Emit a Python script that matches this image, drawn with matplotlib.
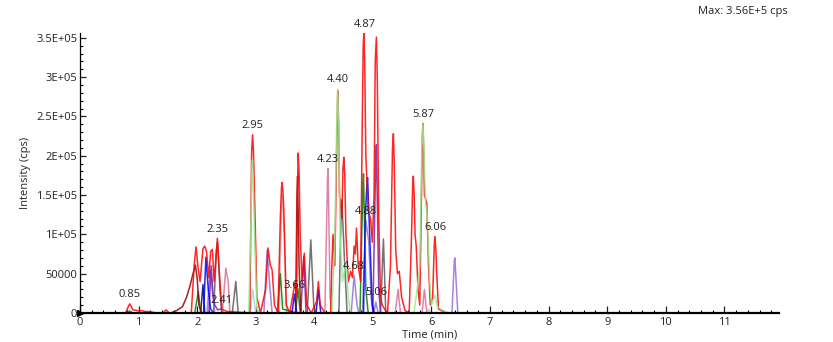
import matplotlib
matplotlib.use("Agg")
import matplotlib.pyplot as plt
from matplotlib.ticker import MultipleLocator

plt.rcParams['font.family'] = ['Open Sans', 'DejaVu Sans']

# ---- data: (time min, intensity cps) vertices ----
red = [(0, 0), (0.78, 0), (0.83, 9000), (0.85, 11500), (0.87, 9000), (0.90, 4000), (0.95, 3500), (1.00, 2500),
       (1.05, 3000), (1.10, 2000), (1.20, 1500), (1.30, 0), (1.42, 0), (1.47, 4000), (1.52, 0), (1.90, 0),
       (1.95, 60000), (1.98, 84000), (2.02, 55000), (2.05, 40000), (2.10, 82000), (2.13, 85000), (2.16, 78000),
       (2.20, 45000), (2.23, 78000), (2.26, 81000), (2.29, 40000), (2.32, 70000), (2.345, 95000), (2.38, 50000),
       (2.42, 5000), (2.50, 2000), (2.90, 0), (2.915, 100000), (2.93, 205000), (2.946, 226800), (2.962, 205000),
       (2.98, 150000), (3.02, 20000), (3.08, 0), (3.17, 30000), (3.21, 82700), (3.25, 60000), (3.28, 55000),
       (3.32, 10000), (3.38, 0), (3.42, 120000), (3.44, 160000), (3.45, 166000), (3.465, 155000), (3.48, 130000),
       (3.52, 10000), (3.58, 0), (3.64, 25000), (3.67, 38000), (3.70, 20000), (3.71, 150000), (3.725, 203500),
       (3.74, 180000), (3.76, 100000), (3.79, 40000), (3.83, 76000), (3.87, 10000), (3.95, 0), (4.04, 15000),
       (4.07, 40000), (4.10, 10000), (4.18, 0), (4.28, 0), (4.30, 60000), (4.32, 100000), (4.35, 60000),
       (4.38, 200000), (4.40, 283000), (4.415, 240000), (4.43, 150000), (4.47, 120000), (4.49, 185000),
       (4.505, 198000), (4.52, 175000), (4.54, 100000), (4.58, 40000), (4.62, 53000), (4.65, 45000), (4.68, 85000),
       (4.70, 75000), (4.72, 108000), (4.75, 60000), (4.79, 40000), (4.82, 250000), (4.835, 340000),
       (4.846, 356000), (4.86, 320000), (4.88, 200000), (4.92, 130000), (4.96, 120000), (4.99, 90000),
       (5.02, 150000), (5.04, 320000), (5.06, 351000), (5.075, 300000), (5.10, 120000), (5.13, 20000),
       (5.16, 10000), (5.20, 5000), (5.25, 0), (5.30, 60000), (5.335, 210000), (5.35, 228000), (5.365, 190000),
       (5.39, 80000), (5.42, 50000), (5.45, 53000), (5.49, 20000), (5.55, 3000), (5.62, 0), (5.66, 100000),
       (5.68, 165000), (5.69, 174000), (5.705, 150000), (5.72, 100000), (5.74, 85000), (5.77, 30000),
       (5.80, 10000), (5.83, 150000), (5.845, 225000), (5.855, 241000), (5.87, 200000), (5.88, 150000),
       (5.92, 140000), (5.95, 60000), (5.98, 10000), (6.02, 20000), (6.05, 90000), (6.06, 97000), (6.075, 80000),
       (6.09, 50000), (6.12, 5000), (6.20, 2000), (6.25, 0), (11.9, 0)]

lgreen = [(0, 0), (2.88, 0), (2.92, 120000), (2.935, 185000), (2.945, 195000), (2.96, 160000), (2.98, 100000),
          (3.02, 5000), (3.06, 0), (4.30, 0), (4.35, 90000), (4.38, 230000), (4.40, 285000), (4.415, 240000),
          (4.44, 100000), (4.48, 40000), (4.52, 55000), (4.55, 60000), (4.58, 20000), (4.62, 0), (5.70, 0),
          (5.76, 33000), (5.80, 60000), (5.835, 210000), (5.855, 241000), (5.87, 210000), (5.90, 140000),
          (5.93, 120000), (5.97, 40000), (6.00, 10000), (6.06, 22000), (6.10, 8000), (6.20, 3000), (6.30, 0),
          (11.9, 0)]

dgreen = [(0, 0), (0.80, 0), (0.85, 2500), (0.90, 0), (1.96, 0), (2.02, 27000), (2.06, 0), (3.37, 0),
          (3.42, 50000), (3.46, 5000), (3.68, 0), (3.72, 31000), (3.76, 0), (4.78, 0), (4.83, 165000),
          (4.84, 177000), (4.855, 120000), (4.88, 30000), (4.92, 0), (11.9, 0)]

blue = [(0, 0), (2.11, 0), (2.15, 71000), (2.19, 30000), (2.23, 5000), (2.28, 0), (3.62, 0), (3.66, 24000),
        (3.70, 0), (4.03, 0), (4.07, 30000), (4.11, 0), (4.84, 0), (4.87, 120000), (4.90, 168000), (4.91, 172000),
        (4.95, 90000), (4.99, 10000), (5.02, 0), (11.9, 0)]

navy = [(0, 0), (2.06, 0), (2.10, 36000), (2.13, 0), (11.9, 0)]

dred = [(0, 0), (1.55, 0), (1.65, 3000), (1.75, 8000), (1.82, 20000), (1.88, 35000), (1.93, 50000),
        (1.97, 61000), (2.00, 45000), (2.03, 10000), (2.08, 0), (3.68, 0), (3.705, 150000), (3.715, 174000),
        (3.74, 60000), (3.77, 0), (11.9, 0)]

gray = [(0, 0), (2.28, 0), (2.33, 80000), (2.35, 90000), (2.39, 30000), (2.42, 0), (2.60, 0), (2.66, 40000),
        (2.70, 0), (3.88, 0), (3.94, 93000), (3.99, 10000), (4.02, 0), (4.42, 0), (4.46, 135000), (4.47, 144000),
        (4.52, 60000), (4.56, 0), (5.13, 0), (5.18, 94000), (5.22, 0), (11.9, 0)]

mpurple = [(0, 0), (2.17, 0), (2.22, 55000), (2.27, 20000), (2.30, 0), (3.14, 0), (3.195, 80000),
           (3.24, 35000), (3.28, 0), (4.63, 0), (4.68, 48000), (4.73, 10000), (4.76, 0), (4.82, 0),
           (4.88, 118000), (4.93, 90000), (4.97, 20000), (5.00, 0), (5.02, 0), (5.05, 14000), (5.09, 0),
           (6.35, 0), (6.39, 66000), (6.40, 70000), (6.45, 0), (11.9, 0)]

purple = [(0, 0), (2.20, 0), (2.24, 60000), (2.27, 25000), (2.30, 10000), (2.35, 4000), (2.41, 5000),
          (2.45, 0), (3.77, 0), (3.82, 72000), (3.86, 0), (5.00, 0), (5.05, 200000), (5.06, 214000),
          (5.10, 30000), (5.13, 0), (11.9, 0)]

pviolet = [(0, 0), (2.43, 0), (2.49, 57000), (2.53, 40000), (2.56, 0), (4.18, 0), (4.225, 170000),
           (4.235, 184000), (4.27, 20000), (4.30, 0), (5.38, 0), (5.43, 30000), (5.47, 0), (5.84, 0),
           (5.88, 30000), (5.92, 0), (11.9, 0)]

lblue = [(0, 0), (2.90, 0), (2.95, 30000), (3.00, 0), (5.92, 0), (5.95, 5000), (5.98, 0), (11.9, 0)]

rosy = [(0, 0), (3.40, 0), (3.44, 140000), (3.45, 150000), (3.49, 100000), (3.53, 0), (11.9, 0)]

label_times = ["0.85", "2.35", "2.41", "2.95", "3.66", "4.23", "4.40", "4.68", "4.87", "4.88", "5.06", "5.87", "6.06"]
label_x = [0.85, 2.35, 2.41, 2.95, 3.66, 4.23, 4.40, 4.68, 4.87, 4.88, 5.06, 5.87, 6.06]
label_y = [11500, 95000, 5000, 226800, 24000, 184000, 285000, 48000, 356000, 118000, 14000, 241000, 97000]

yticks = [0, 50000, 100000, 150000, 200000, 250000, 300000, 350000]
ytick_labels = ["0", "50000", "1E+05", "1.5E+05", "2E+05", "2.5E+05", "3E+05", "3.5E+05"]
xticks = list(range(0, 12))

# ---- figure ----
fig = plt.figure(figsize=(8.33, 3.42), dpi=100)
ax = fig.add_axes([0.096, 0.085, 0.839, 0.818])

traces = [
    (lblue, '#9fd3e8'),
    (rosy, '#c9a9a9'),
    (navy, '#00008b'),
    (dgreen, '#008000'),
    (gray, '#5a5a5a'),
    (mpurple, '#9370db'),
    (purple, '#7b1fa2'),
    (pviolet, '#d8709a'),
    (blue, '#0000ff'),
    (dred, '#8b0000'),
    (red, '#ff0000'),
    (lgreen, '#90ee90'),
]
for pts, c in traces:
    t, i = zip(*pts)
    ax.plot(t, i, color=c, lw=1.1, alpha=0.85, solid_joinstyle='round')

for txt, x, y in zip(label_times, label_x, label_y):
    ax.annotate(txt, (x, y), xytext=(0, 2.5), textcoords='offset points',
                ha='center', va='bottom', fontsize=8, color='#222222')

ax.set_xlim(0, 11.93)
ax.set_ylim(0, 356000)
ax.set_yticks(yticks)
ax.set_yticklabels(ytick_labels)
ax.set_xticks(xticks)
ax.xaxis.set_minor_locator(MultipleLocator(0.2))
ax.yaxis.set_minor_locator(MultipleLocator(10000))

for s in ['top', 'right']:
    ax.spines[s].set_visible(False)
ax.spines['bottom'].set_linewidth(1.6)
ax.spines['left'].set_linewidth(0.9)

ax.tick_params(axis='both', which='major', direction='in', length=4, width=0.9, labelsize=8, pad=2, colors='#222222')
ax.tick_params(axis='both', which='minor', direction='in', length=2, width=0.8)
ax.tick_params(axis='x', which='major', length=5, pad=3)

ax.plot([0], [0], marker='>', color='black', markersize=4, clip_on=False)

ax.set_xlabel("Time (min)", fontsize=8, labelpad=1, color='#222222')
ax.set_ylabel("Intensity (cps)", fontsize=8, labelpad=4, color='#222222')

fig.text(0.946, 0.965, "Max: 3.56E+5 cps", ha='right', va='center', fontsize=8, color='#222222')

fig.savefig("out.png", dpi=100)
